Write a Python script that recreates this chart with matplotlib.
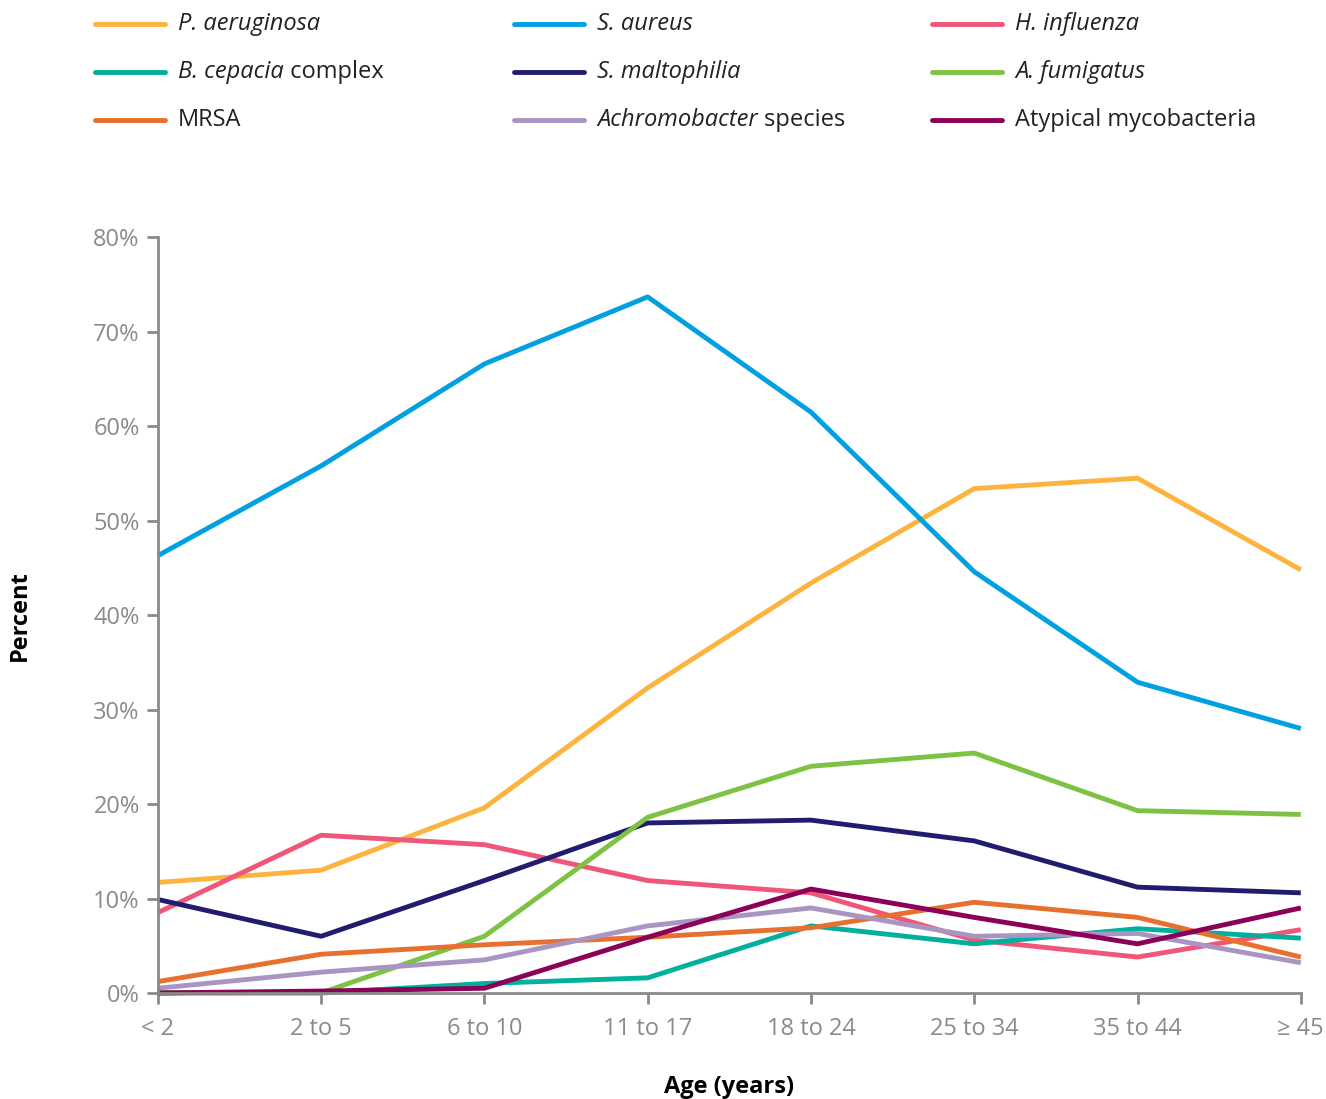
import matplotlib
matplotlib.use('Agg')
import matplotlib.pyplot as plt
from matplotlib.lines import Line2D
from matplotlib.ticker import FuncFormatter

plt.rcParams['font.family'] = ['Open Sans', 'DejaVu Sans']

ages = ['< 2', '2 to 5', '6 to 10', '11 to 17', '18 to 24', '25 to 34', '35 to 44', '\u2265 45']

p_aeruginosa = [11.7, 13.0, 19.6, 32.3, 43.4, 53.4, 54.5, 44.8]
s_aureus = [46.3, 55.8, 66.6, 73.7, 61.5, 44.6, 32.9, 28.0]
h_influenza = [8.5, 16.7, 15.7, 11.9, 10.6, 5.6, 3.8, 6.7]
b_cepacia = [0.0, 0.0, 1.0, 1.6, 7.1, 5.2, 6.8, 5.8]
s_maltophilia = [9.9, 6.0, 11.9, 18.0, 18.3, 16.1, 11.2, 10.6]
a_fumigatus = [0.0, 0.0, 6.0, 18.6, 24.0, 25.4, 19.3, 18.9]
mrsa = [1.2, 4.1, 5.1, 5.9, 6.9, 9.6, 8.0, 3.8]
achromobacter = [0.5, 2.2, 3.5, 7.1, 9.0, 6.0, 6.3, 3.2]
atypical = [0.0, 0.2, 0.5, 5.9, 11.0, 8.0, 5.2, 9.0]

# (italic part, regular part, values, colour) - row by row as in the legend
series = [
    ('P. aeruginosa', '', p_aeruginosa, '#FDB43F'),
    ('S. aureus', '', s_aureus, '#00A0E1'),
    ('H. influenza', '', h_influenza, '#EF5677'),
    ('B. cepacia', ' complex', b_cepacia, '#00B09C'),
    ('S. maltophilia', '', s_maltophilia, '#211C6E'),
    ('A. fumigatus', '', a_fumigatus, '#7DC242'),
    ('', 'MRSA', mrsa, '#E8702F'),
    ('Achromobacter', ' species', achromobacter, '#A895C4'),
    ('', 'Atypical mycobacteria', atypical, '#8C0057'),
]

W, H = 1326, 1099
fig = plt.figure(figsize=(W / 100, H / 100), dpi=100)
ax = fig.add_axes([0.119, 0.0965, 0.862, 0.6875])

x = list(range(len(ages)))
for ital, reg, vals, col in series:
    ax.plot(x, vals, color=col, lw=3.5, solid_capstyle='butt', clip_on=False)

ax.set_xlim(0, len(ages) - 1)
ax.set_ylim(0, 80)
ax.set_xticks(x)
ax.set_xticklabels(ages)
ax.set_yticks(range(0, 81, 10))
ax.yaxis.set_major_formatter(FuncFormatter(lambda v, p: '%d%%' % v))

grey = '#8a8a8a'
for s in ['top', 'right']:
    ax.spines[s].set_visible(False)
for s in ['left', 'bottom']:
    ax.spines[s].set_color(grey)
    ax.spines[s].set_linewidth(2)
ax.tick_params(colors=grey, labelsize=17, width=2, length=8, direction='out')
ax.tick_params(axis='x', pad=9)
ax.tick_params(axis='y', pad=5)

ax.set_xlabel('Age (years)', fontsize=17, fontweight='bold', labelpad=25)
ax.set_ylabel('Percent', fontsize=17, fontweight='bold', labelpad=44)

# legend drawn by hand: three columns, filled row-wise
col_px = [95, 514, 932]
row_px = [24, 72, 120]
for i, (ital, reg, vals, col) in enumerate(series):
    x0 = col_px[i % 3]
    y0 = 1 - row_px[i // 3] / H
    fig.add_artist(Line2D([x0 / W, (x0 + 70) / W], [y0, y0], color=col, lw=3.5,
                          solid_capstyle='round', transform=fig.transFigure))
    tx = (x0 + 83) / W
    if ital:
        t = fig.text(tx, y0, ital, fontsize=17, fontstyle='italic', va='center', color='#222222')
        if reg:
            ax.annotate(reg, xy=(1, 0), xycoords=t, va='bottom', ha='left',
                        fontsize=17, color='#222222', annotation_clip=False)
    else:
        fig.text(tx, y0, reg, fontsize=17, va='center', color='#222222')

fig.savefig('out.png', dpi=100)
